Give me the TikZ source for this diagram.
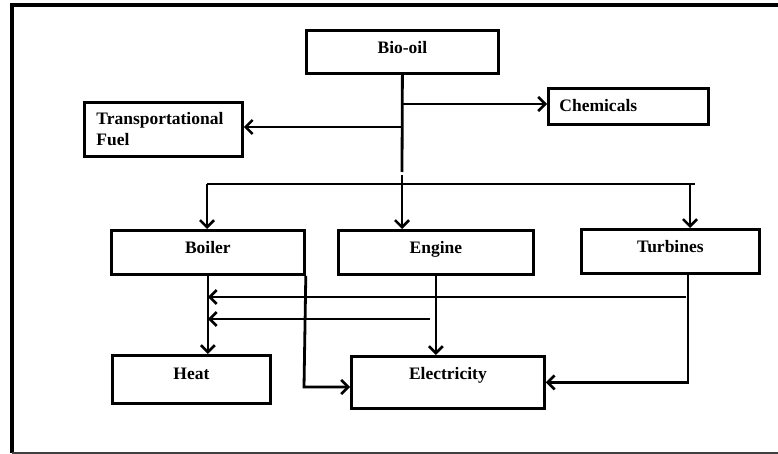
\documentclass[tikz,border=0pt]{standalone}
\usepackage{fontspec}
\setmainfont{Liberation Serif}
\usetikzlibrary{arrows.meta}

\tikzset{
  blk/.style={draw, line width=2.8pt, rectangle, anchor=north west,
    inner xsep=0pt, inner ysep=0pt, text height=23pt,
    font=\bfseries\fontsize{17.5}{21}\selectfont},
  wire/.style={line width=2.8pt},
  flow/.style={line width=2.8pt, -{Straight Barb[length=7pt,width=14pt,line width=2.6pt]}}
}

\begin{document}
\begin{tikzpicture}[x=1pt,y=-1pt]
\useasboundingbox (0,0) rectangle (778,454);
% frame
\draw[line width=3.2pt] (778,5) -- (12,5) -- (12,453);
\draw[line width=1.6pt, black!75] (12,453) -- (778,453);

% boxes
\node[blk, minimum width=192pt, text depth=20pt] (bio) at (305,29) {Bio-oil};
\node[blk, inner xsep=11pt, text width=138pt, align=left, text depth=13pt] (chem) at (547,87) {Chemicals};
\node[blk, inner xsep=12pt, text width=134pt, align=left, text height=, text depth=, minimum height=54pt] (trans) at (83,101) {Transportational\\Fuel};
\node[blk, minimum width=193pt, text depth=21pt] (boiler) at (110,229) {Boiler};
\node[blk, minimum width=195pt, text depth=21pt] (engine) at (337,229) {Engine};
\node[blk, minimum width=178pt, text depth=21pt] (turb) at (580,228) {Turbines};
\node[blk, minimum width=158pt, text height=24pt, text depth=24pt] (heat) at (111,354) {Heat};
\node[blk, minimum width=193pt, text depth=29pt] (elec) at (350,355) {Electricity};

% junction points
\coordinate (brk) at (402,172);
\coordinate (brk2) at (402,175);
\coordinate (cj) at (402,104);
\coordinate (tj) at (402,127);
\coordinate (dl) at (207,184);
\coordinate (dr) at (695,184);
\coordinate (tp) at (690,184);
\coordinate (tv) at (688,0);
\coordinate (hb) at (686,297);
\coordinate (eb) at (430,319);
\coordinate (bv) at (304,387);

% from bio-oil
\draw[wire] (bio.south) -- (brk);
\draw[flow] (brk2) -- (brk2 |- engine.north);
\draw[flow] (cj) -- (cj -| chem.west);
\draw[flow] (tj) -- (tj -| trans.east);
\draw[wire] (dl) -- (dr);
\draw[flow] (dl) -- (dl |- boiler.north);
\draw[flow] (tp) -- (tp |- turb.north);

% to heat and electricity
\draw[flow] (boiler.south) -- (boiler.south |- heat.north);
\draw[flow] (tv |- turb.south) -- (tv |- elec.east) -- (elec.east);
\draw[flow] (hb) -- (hb -| boiler.south);
\draw[flow] (engine.south) -- (engine.south |- elec.north);
\draw[flow] (eb) -- (eb -| boiler.south);
\draw[flow] (boiler.south east) -- (bv) -- (bv -| elec.west);
\end{tikzpicture}
\end{document}
